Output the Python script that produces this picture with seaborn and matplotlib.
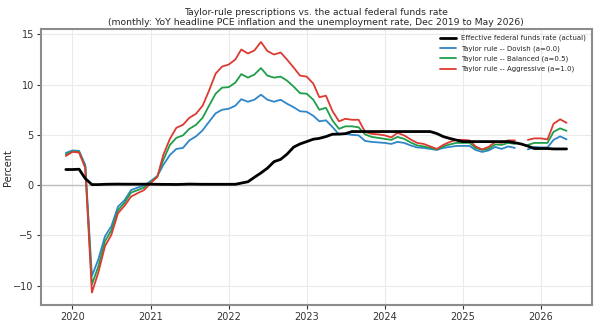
import numpy as np
import pandas as pd
import matplotlib
matplotlib.use("Agg")
import matplotlib.pyplot as plt
import matplotlib.dates as mdates
import seaborn as sns

nan = np.nan
months = pd.date_range("2019-12-01", "2026-05-01", freq="MS")

effr = [1.55,
        1.55, 1.58, 0.65, 0.05, 0.05, 0.08, 0.09, 0.10, 0.09, 0.09, 0.09, 0.09,
        0.09, 0.08, 0.07, 0.07, 0.06, 0.08, 0.10, 0.09, 0.08, 0.08, 0.08, 0.08,
        0.08, 0.08, 0.20, 0.33, 0.77, 1.21, 1.68, 2.33, 2.56, 3.08, 3.78, 4.10,
        4.33, 4.57, 4.65, 4.83, 5.06, 5.08, 5.12, 5.33, 5.33, 5.33, 5.33, 5.33,
        5.33, 5.33, 5.33, 5.33, 5.33, 5.33, 5.33, 5.33, 5.13, 4.83, 4.64, 4.48,
        4.33, 4.33, 4.33, 4.33, 4.33, 4.33, 4.33, 4.33, 4.22, 4.09, 3.88, 3.64,
        3.64, 3.64, 3.60, 3.60, 3.60]

dovish = [3.2,
          3.45, 3.4, 2.0, -9.05, -7.4, -5.1, -4.1, -2.15, -1.5, -0.5, -0.25, -0.05,
          0.4, 0.9, 2.0, 3.0, 3.6, 3.7, 4.45, 4.85, 5.45, 6.3, 7.15, 7.5,
          7.6, 7.9, 8.55, 8.3, 8.5, 9.0, 8.5, 8.3, 8.5, 8.1, 7.75, 7.35,
          7.3, 6.9, 6.35, 6.45, 5.8, 5.05, 5.1, 5.0, 4.95, 4.4, 4.3, 4.25,
          4.2, 4.1, 4.3, 4.2, 3.95, 3.75, 3.7, 3.6, 3.5, 3.7, 3.8, 3.9,
          3.9, 3.9, 3.5, 3.3, 3.45, 3.8, 3.6, 3.85, 3.7, nan, 3.55, 3.8,
          3.75, 3.75, 4.5, 4.85, 4.55]

balanced = [3.05,
            3.35, 3.3, 1.85, -9.9, -8.1, -5.6, -4.5, -2.5, -1.75, -0.75, -0.5, -0.25,
            0.3, 0.85, 2.5, 4.0, 4.7, 4.95, 5.6, 6.0, 6.7, 7.9, 9.1, 9.7,
            9.75, 10.2, 11.05, 10.7, 11.0, 11.65, 10.9, 10.7, 10.8, 10.4, 9.8, 9.15,
            9.1, 8.5, 7.5, 7.7, 6.45, 5.6, 5.85, 5.85, 5.75, 5.05, 4.8, 4.7,
            4.6, 4.5, 4.8, 4.6, 4.25, 3.95, 3.85, 3.7, 3.55, 3.85, 4.05, 4.2,
            4.2, 4.2, 3.7, 3.5, 3.6, 4.05, 4.0, 4.2, 4.1, nan, 4.0, 4.2,
            4.2, 4.2, 5.3, 5.65, 5.4]

aggressive = [2.9,
              3.3, 3.25, 1.7, -10.7, -8.7, -6.1, -4.95, -2.8, -2.05, -1.15, -0.8, -0.5,
              0.2, 0.8, 3.0, 4.6, 5.7, 6.0, 6.7, 7.1, 7.9, 9.4, 11.1, 11.8,
              12.0, 12.5, 13.5, 13.1, 13.4, 14.25, 13.35, 13.0, 13.2, 12.5, 11.7, 10.9,
              10.8, 10.1, 8.75, 8.9, 7.4, 6.35, 6.6, 6.5, 6.5, 5.3, 5.1, 5.05,
              4.95, 4.75, 5.2, 4.95, 4.55, 4.2, 4.1, 3.85, 3.6, 4.0, 4.3, 4.5,
              4.5, 4.45, 3.85, 3.55, 3.8, 4.3, 4.2, 4.45, 4.45, nan, 4.5, 4.65,
              4.65, 4.55, 6.1, 6.55, 6.2]

labels = ["Effective federal funds rate (actual)",
          "Taylor rule -- Dovish (a=0.0)",
          "Taylor rule -- Balanced (a=0.5)",
          "Taylor rule -- Aggressive (a=1.0)"]
series = [effr, dovish, balanced, aggressive]
colors = ["black", "#2f86c8", "#1f9e4a", "#dc3a32"]
widths = [2.0, 1.3, 1.3, 1.3]

sns.set_style("whitegrid", {"axes.edgecolor": "0.55", "grid.color": "0.92",
                            "xtick.bottom": True, "ytick.left": True})
plt.rcParams["font.family"] = ["DejaVu Sans"]

fig = plt.figure(figsize=(6.0, 3.27), dpi=100)
ax = fig.add_axes([0.068, 0.067, 0.918, 0.843])

ax.axhline(0, color="0.75", lw=1.0, zorder=1)
for s, lab, c, w in zip(series, labels, colors, widths):
    vals = np.array(s, dtype=float)
    # segment id so the line breaks where a month is missing
    seg = np.cumsum(np.isnan(vals))
    df = pd.DataFrame({"date": months, "value": vals, "seg": seg}).dropna()
    sns.lineplot(data=df, x="date", y="value", units="seg", estimator=None,
                 ax=ax, color=c, lw=w, label=lab,
                 zorder=3 if c == "black" else 2)

for sp in ax.spines.values():
    sp.set_linewidth(1.5)
ax.xaxis.set_major_locator(mdates.YearLocator())
ax.xaxis.set_major_formatter(mdates.DateFormatter("%Y"))
ax.tick_params(labelsize=7, length=3, width=0.8, colors="0.2", pad=2)
ax.set_xlabel("")
ax.set_ylabel("Percent", fontsize=7)
ax.yaxis.set_label_coords(-0.05, 0.5)
ax.set_title("Taylor-rule prescriptions vs. the actual federal funds rate\n"
             "(monthly: YoY headline PCE inflation and the unemployment rate, Dec 2019 to May 2026)",
             fontsize=6.7, pad=3)
h, l = ax.get_legend_handles_labels()
seen = {}
for hh, ll in zip(h, l):
    if ll not in seen:
        seen[ll] = hh
ax.legend(list(seen.values()), list(seen.keys()), loc="upper right",
          fontsize=5.0, frameon=False, handlelength=2.2, handletextpad=0.8,
          labelspacing=0.55, borderaxespad=0.4)

fig.savefig("out.png", dpi=100)
